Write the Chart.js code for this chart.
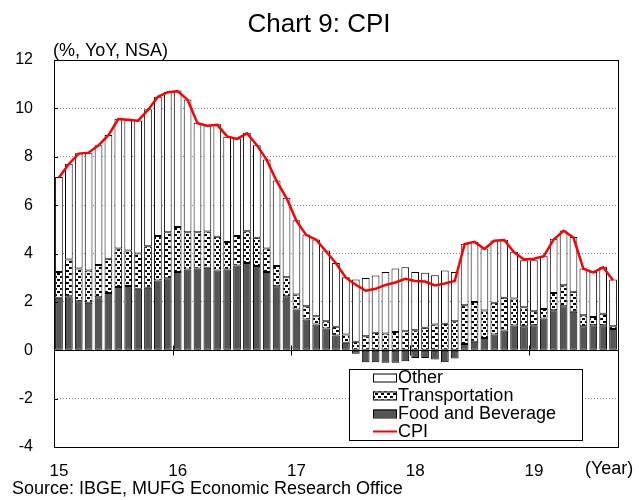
<!DOCTYPE html>
<html>
<head>
<meta charset="utf-8">
<title>Chart 9: CPI</title>
<script src="https://cdn.jsdelivr.net/npm/chart.js@4.4.1/dist/chart.umd.min.js"></script>
<style>
  html, body { margin: 0; padding: 0; background: #fff; }
  #wrap { width: 639px; height: 500px; }
</style>
</head>
<body>
<div id="wrap"><canvas id="cpiChart" width="639" height="500"></canvas></div>
<script>
// monthly, Jan 2015 - Sep 2019; only January gets a year label
const yearLabels = ['15', '16', '17', '18', '19'];
const months = [];
for (let y = 0; y < yearLabels.length; y++) {
  for (let m = 0; m < 12; m++) {
    if (y === 4 && m > 8) break;
    months.push(m === 0 ? yearLabels[y] : '');
  }
}

// contributions, percentage points
const foodBev = [
  2.17, 2.23, 2.03, 1.96, 2.19, 2.37, 2.62, 2.66, 2.54, 2.58, 2.88, 2.98,
  3.24, 3.34, 3.38, 3.41, 3.30, 3.34, 3.50, 3.61, 3.48, 3.24, 2.65, 2.23,
  1.68, 1.27, 1.06, 0.90, 0.61, 0.31, -0.14, -0.50, -0.50, -0.52, -0.52, -0.45,
  -0.32, -0.32, -0.38, -0.50, -0.34, 0.26, 0.35, 0.51, 0.65, 0.82, 1.02, 0.99,
  1.03, 1.31, 1.65, 1.82, 1.59, 0.99, 1.03, 1.03, 0.88
];
const transport = [
  1.07, 1.52, 1.35, 1.34, 1.33, 1.41, 1.59, 1.46, 1.46, 1.72, 1.84, 1.90,
  1.86, 1.54, 1.50, 1.50, 1.39, 1.14, 1.22, 1.31, 1.17, 0.97, 0.83, 0.79,
  0.62, 0.55, 0.35, 0.30, 0.36, 0.34, 0.35, 0.58, 0.72, 0.69, 0.75, 0.79,
  0.83, 0.93, 1.06, 1.10, 1.20, 1.60, 1.64, 1.13, 1.31, 1.35, 1.12, 0.79,
  0.58, 0.40, 0.72, 0.87, 0.83, 0.46, 0.34, 0.48, 0.11
];
const other = [
  3.92, 3.96, 4.76, 4.84, 4.96, 5.12, 5.36, 5.40, 5.50, 5.66, 5.76, 5.81,
  5.64, 5.49, 4.53, 4.39, 4.65, 4.35, 4.03, 4.07, 3.83, 3.68, 3.54, 3.28,
  3.07, 2.97, 3.17, 2.92, 2.64, 2.37, 2.57, 2.41, 2.37, 2.55, 2.63, 2.64,
  2.41, 2.27, 2.04, 2.20, 2.03, 2.54, 2.49, 2.57, 2.58, 2.40, 1.93, 1.94,
  2.11, 2.18, 2.24, 2.26, 2.26, 1.93, 1.87, 1.94, 1.93
];
const cpi = [
  7.14, 7.70, 8.13, 8.17, 8.47, 8.89, 9.56, 9.53, 9.49, 9.93, 10.48, 10.67,
  10.71, 10.36, 9.39, 9.28, 9.32, 8.84, 8.74, 8.97, 8.48, 7.87, 6.99, 6.29,
  5.35, 4.76, 4.57, 4.08, 3.60, 3.00, 2.71, 2.46, 2.54, 2.70, 2.80, 2.95,
  2.86, 2.84, 2.68, 2.76, 2.86, 4.39, 4.48, 4.19, 4.53, 4.56, 4.05, 3.75,
  3.78, 3.89, 4.58, 4.94, 4.66, 3.37, 3.22, 3.43, 2.89
];

const yMin = -4, yMax = 12, yStep = 2;
const FONT = '"Liberation Sans", Arial, sans-serif';

// dotted fill for Transportation
function makeDots() {
  const c = document.createElement('canvas');
  c.width = 6; c.height = 6;
  const g = c.getContext('2d');
  g.fillStyle = '#fff';
  g.fillRect(0, 0, 6, 6);
  g.fillStyle = '#000';
  g.fillRect(0, 0, 3, 2);
  g.fillRect(3, 3, 3, 2);
  return g.createPattern(c, 'repeat');
}
const dots = makeDots();

const legendItems = [
  { label: 'Other', fill: '#fff' },
  { label: 'Transportation', fill: dots },
  { label: 'Food and Beverage', fill: '#555' },
  { label: 'CPI', line: '#ff0000' },
];

// frame, inward ticks, texts and legend box
const decor = {
  id: 'decor',
  afterDatasetsDraw(chart) {
    const { ctx, chartArea: a, scales } = chart;
    const x = scales.x, y = scales.y;
    ctx.save();
    ctx.strokeStyle = '#000';
    ctx.lineWidth = 1;
    // zero line
    const y0 = Math.round(y.getPixelForValue(0)) + 0.5;
    ctx.beginPath();
    ctx.moveTo(a.left, y0);
    ctx.lineTo(a.right, y0);
    ctx.stroke();
    // year ticks across the zero line
    for (let i = 12; i < months.length; i += 12) {
      const px = Math.round((x.getPixelForValue(i - 1) + x.getPixelForValue(i)) / 2) + 0.5;
      ctx.beginPath();
      ctx.moveTo(px, y0 - 5);
      ctx.lineTo(px, y0 + 5);
      ctx.stroke();
    }
    // small inward ticks on the value axis
    for (let v = yMin; v <= yMax; v += yStep) {
      const py = Math.round(y.getPixelForValue(v)) + 0.5;
      ctx.beginPath();
      ctx.moveTo(a.left, py);
      ctx.lineTo(a.left + 4, py);
      ctx.stroke();
    }
    ctx.strokeRect(Math.round(a.left) + 0.5, Math.round(a.top) + 0.5,
      Math.round(a.right - a.left), Math.round(a.bottom - a.top));
    ctx.restore();
  },
  afterDraw(chart) {
    const { ctx, chartArea: a } = chart;
    ctx.save();
    ctx.fillStyle = '#000';
    ctx.textBaseline = 'middle';

    ctx.font = '26px ' + FONT;
    ctx.textAlign = 'center';
    ctx.fillText('Chart 9: CPI', 319, 25);

    ctx.font = '18px ' + FONT;
    ctx.textAlign = 'left';
    ctx.fillText('(%, YoY, NSA)', a.left - 1, 51);
    ctx.fillText('(Year)', 585, 469);
    ctx.fillText('Source: IBGE, MUFG Economic Research Office', 12, 489);

    // legend
    const bx = 349, by = 369, bw = 233, bh = 71;
    ctx.fillStyle = '#fff';
    ctx.fillRect(bx, by, bw, bh);
    ctx.strokeStyle = '#000';
    ctx.lineWidth = 1;
    ctx.strokeRect(bx + 0.5, by + 0.5, bw, bh);
    ctx.font = '18px ' + FONT;
    legendItems.forEach((it, i) => {
      const cy = by + 8.5 + i * 18;
      if (it.line) {
        ctx.strokeStyle = it.line;
        ctx.lineWidth = 2;
        ctx.beginPath();
        ctx.moveTo(373, cy);
        ctx.lineTo(397, cy);
        ctx.stroke();
      } else {
        ctx.fillStyle = it.fill;
        ctx.fillRect(373, cy - 4, 24, 8);
        ctx.strokeStyle = '#000';
        ctx.lineWidth = 1;
        ctx.strokeRect(373.5, cy - 3.5, 23, 8);
      }
      ctx.fillStyle = '#000';
      ctx.fillText(it.label, 398, cy + 1);
    });
    ctx.restore();
  }
};

const barStyle = {
  borderColor: '#000', borderWidth: 1, borderSkipped: false,
  barPercentage: 0.78, categoryPercentage: 1, order: 1
};

new Chart(document.getElementById('cpiChart'), {
  data: {
    labels: months,
    datasets: [
      { type: 'line', label: 'CPI', data: cpi, borderColor: '#ff0000', borderWidth: 2.5,
        pointRadius: 0, tension: 0, order: 0 },
      Object.assign({ type: 'bar', label: 'Food and Beverage', data: foodBev, backgroundColor: '#555' }, barStyle),
      Object.assign({ type: 'bar', label: 'Transportation', data: transport, backgroundColor: dots }, barStyle),
      Object.assign({ type: 'bar', label: 'Other', data: other, backgroundColor: '#fff' }, barStyle),
    ],
  },
  options: {
    responsive: false,
    animation: false,
    devicePixelRatio: 1,
    layout: { padding: { left: 0, top: 60, right: 21, bottom: 0 } },
    plugins: { legend: { display: false }, title: { display: false }, tooltip: { enabled: false } },
    scales: {
      x: {
        stacked: true,
        grid: { display: false },
        border: { display: false },
        ticks: { autoSkip: false, maxRotation: 0, padding: 6, color: '#000', font: { family: FONT, size: 17 } },
        afterFit: (s) => { s.height = 53; },
      },
      y: {
        stacked: true,
        min: yMin,
        max: yMax,
        grid: { color: '#888', drawTicks: false },
        border: { display: false, dash: [1, 2] },
        ticks: { stepSize: yStep, padding: 21, color: '#000', font: { family: FONT, size: 16 } },
        afterFit: (s) => { s.width = 54; },
      },
    },
  },
  plugins: [decor],
});
</script>
</body>
</html>
